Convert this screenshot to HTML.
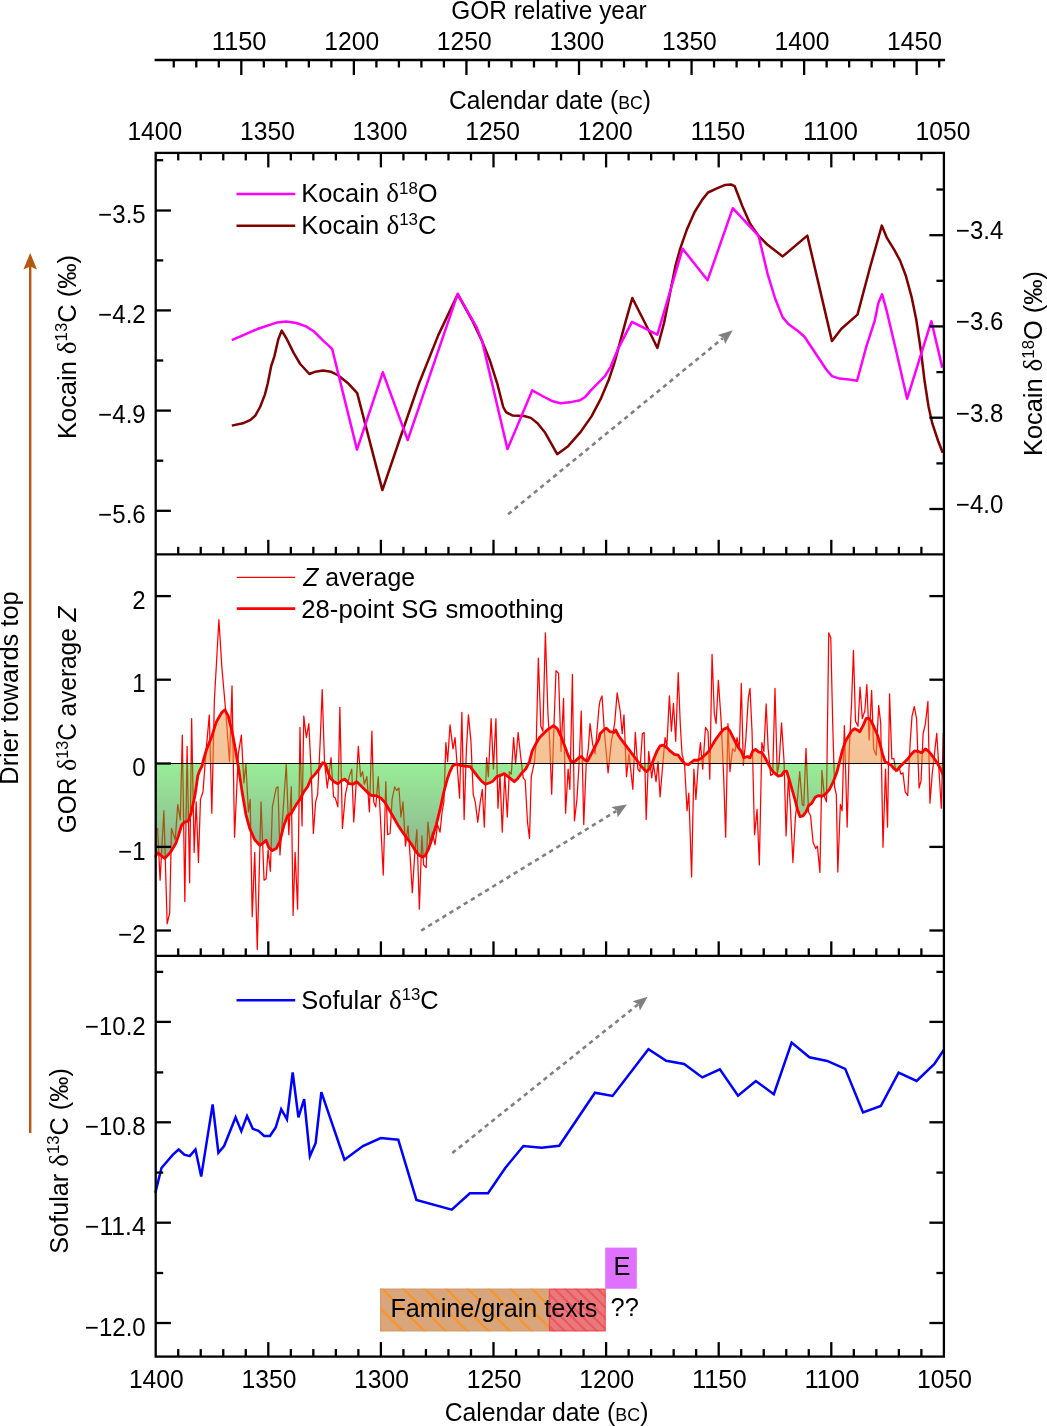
<!DOCTYPE html>
<html lang="en"><head><meta charset="utf-8"><title>Kocain, GOR and Sofular isotope records</title>
<style>html,body{margin:0;padding:0;background:#fff;}svg{display:block;will-change:transform;}text{opacity:.999;font-family:"Liberation Sans", Arial, Helvetica, sans-serif;font-size:25.4px;fill:#000;}.sym{font-family:"Liberation Serif","DejaVu Serif",serif;font-size:27px;}.sup{font-size:16.8px;}.sc{font-size:18.3px;}</style></head><body>
<svg width="1047" height="1426" viewBox="0 0 1047 1426">
<rect width="1047" height="1426" fill="#fff"/>
<defs>
<linearGradient id="gg" gradientUnits="userSpaceOnUse" x1="0" y1="763" x2="0" y2="858"><stop offset="0" stop-color="#98ee98"/><stop offset="1" stop-color="#8fb090"/></linearGradient>
<linearGradient id="og" gradientUnits="userSpaceOnUse" x1="0" y1="700" x2="0" y2="763"><stop offset="0" stop-color="#f8cda3"/><stop offset="1" stop-color="#f3c295"/></linearGradient>
</defs>
<clipPath id="cb"><rect x="155.7" y="763.5" width="788.2" height="200"/></clipPath>
<clipPath id="ca"><rect x="155.7" y="560" width="788.2" height="203.5"/></clipPath>
<clipPath id="cg"><path d="M154.6 857.2 L158.1 852.9 L161 855.5 L164.8 858.4 L170.5 852.2 L175.8 843.6 L178.7 835 L181.5 825.5 L184.4 822.1 L188.2 821.2 L191.1 813 L194.9 795.8 L197.8 775.8 L199.7 770.5 L202 766.2 L203.5 759.6 L206.4 750 L211.83 736.28 L216.12 722.4 L221.92 712.3 L224.95 709.78 L228.23 716.09 L232.02 731.23 L235.8 751.42 L238.33 766.56 L242.11 791.8 L245.9 814.51 L249.68 828.39 L254.73 839.75 L259.78 845.3 L263.56 842.78 L266.09 840.25 L268.61 847.32 L272.4 850.6 L276.18 848.58 L279.97 841.01 L283.75 825.87 L287.54 815.77 L291.32 813.25 L296.37 804.42 L300 799.37 L303.79 791.8 L307.57 786.75 L311.36 777.92 L315.14 774.13 L318.93 769.09 L322.71 762.78 L325.24 763.53 L327.76 771.61 L330.28 777.92 L334.07 781.7 L337.85 783.72 L341.64 780.44 L344.92 779.18 L349.21 783.72 L353 784.23 L356.78 781.7 L360.57 785.49 L364.35 789.27 L368.14 793.06 L371.92 795.58 L375.71 795.58 L380.76 798.11 L384.54 801.89 L388.33 808.2 L393.38 817.03 L398.42 825.87 L403.47 833.44 L407.26 838.49 L411.04 843.53 L414.83 849.84 L418.61 854.89 L422.4 856.91 L424.92 856.15 L428.71 848.58 L432.49 837.22 L436.28 824.61 L440.06 809.46 L443.85 791.8 L447.63 777.92 L450 771.61 L452.52 766.06 L456.31 764.04 L460.09 765.3 L465.14 766.06 L470.19 766.56 L473.97 771.61 L477.76 776.66 L481.55 781.2 L485.33 784.23 L489.12 782.97 L492.9 781.2 L496.69 776.66 L500.47 775.39 L504.26 773.63 L508.04 776.66 L511.83 779.68 L514.35 781.7 L518.14 777.92 L521.92 772.87 L525.71 769.09 L529.5 761.51 L532.02 751.42 L535.8 743.85 L539.59 737.54 L543.38 733.75 L547.16 729.97 L550.95 727.44 L553.47 725.68 L557.26 728.71 L561.04 736.28 L564.83 746.37 L568.61 756.47 L571.14 761.51 L574.92 761.51 L578.71 757.73 L581.23 756.47 L585.02 760.25 L587.54 761.01 L591.32 753.94 L595.11 746.37 L598.9 738.8 L600 733.75 L603.79 729.97 L606.31 728.2 L610.09 731.74 L613.88 732.49 L615.65 729.97 L618.93 736.28 L622.71 741.32 L626.5 746.37 L630.28 751.42 L634.07 756.47 L637.85 761.51 L641.64 766.56 L644.92 770.35 L646.69 771.61 L649.21 769.09 L651.74 764.04 L654.26 757.73 L656.78 751.42 L660.06 745.87 L663.09 745.11 L666.88 747.63 L670.66 751.42 L674.45 754.45 L678.23 755.21 L680.76 758.99 L684.54 763.53 L688.33 764.54 L690.85 762.78 L693.88 760.25 L697.16 760.25 L700.95 758.49 L704.73 755.21 L708.52 751.42 L712.3 745.11 L716.09 738.8 L719.87 733.75 L723.66 729.21 L727.44 727.44 L729.97 731.23 L733.75 738.8 L737.54 746.37 L741.32 751.42 L743.85 757.73 L747.63 756.47 L750 757.73 L752.52 751.42 L755.55 749.4 L758.83 752.18 L762.11 752.68 L765.14 757.73 L768.17 764.04 L771.45 769.59 L775.24 773.63 L778.26 776.15 L781.55 775.39 L784.07 771.61 L786.59 771.1 L789.12 779.18 L791.64 788.01 L794.92 799.37 L797.44 809.46 L799.97 816.53 L803 815.77 L806.03 811.99 L808.55 805.68 L811.83 803.15 L815.11 797.35 L818.64 795.58 L821.92 796.34 L825.71 793.82 L829.5 789.27 L833.28 781.7 L837.07 771.61 L839.59 761.51 L842.11 751.42 L845.39 741.32 L848.42 736.28 L851.45 731.23 L854.73 728.71 L857.26 729.97 L859.78 731.74 L863.06 725.68 L866.09 718.61 L868.61 718.11 L871.14 721.14 L874.16 727.44 L877.44 735.02 L879.97 743.85 L882.49 753.94 L885.02 761.51 L888.3 763.53 L891.32 765.3 L894.35 769.09 L896.88 770.35 L900.16 766.56 L903.94 762.78 L907.73 758.99 L911.51 753.94 L914.54 750.91 L917.82 751.42 L921.61 752.68 L925.39 748.9 L928.68 751.42 L931.7 755.21 L935.49 760.25 L939.27 766.56 L941.8 771.61 L944.32 777.92 L944.9 781.92 L943.9 763.5 L155.7 763.5 Z" clip-path="url(#cb)"/></clipPath>
<clipPath id="co"><path d="M154.6 857.2 L158.1 852.9 L161 855.5 L164.8 858.4 L170.5 852.2 L175.8 843.6 L178.7 835 L181.5 825.5 L184.4 822.1 L188.2 821.2 L191.1 813 L194.9 795.8 L197.8 775.8 L199.7 770.5 L202 766.2 L203.5 759.6 L206.4 750 L211.83 736.28 L216.12 722.4 L221.92 712.3 L224.95 709.78 L228.23 716.09 L232.02 731.23 L235.8 751.42 L238.33 766.56 L242.11 791.8 L245.9 814.51 L249.68 828.39 L254.73 839.75 L259.78 845.3 L263.56 842.78 L266.09 840.25 L268.61 847.32 L272.4 850.6 L276.18 848.58 L279.97 841.01 L283.75 825.87 L287.54 815.77 L291.32 813.25 L296.37 804.42 L300 799.37 L303.79 791.8 L307.57 786.75 L311.36 777.92 L315.14 774.13 L318.93 769.09 L322.71 762.78 L325.24 763.53 L327.76 771.61 L330.28 777.92 L334.07 781.7 L337.85 783.72 L341.64 780.44 L344.92 779.18 L349.21 783.72 L353 784.23 L356.78 781.7 L360.57 785.49 L364.35 789.27 L368.14 793.06 L371.92 795.58 L375.71 795.58 L380.76 798.11 L384.54 801.89 L388.33 808.2 L393.38 817.03 L398.42 825.87 L403.47 833.44 L407.26 838.49 L411.04 843.53 L414.83 849.84 L418.61 854.89 L422.4 856.91 L424.92 856.15 L428.71 848.58 L432.49 837.22 L436.28 824.61 L440.06 809.46 L443.85 791.8 L447.63 777.92 L450 771.61 L452.52 766.06 L456.31 764.04 L460.09 765.3 L465.14 766.06 L470.19 766.56 L473.97 771.61 L477.76 776.66 L481.55 781.2 L485.33 784.23 L489.12 782.97 L492.9 781.2 L496.69 776.66 L500.47 775.39 L504.26 773.63 L508.04 776.66 L511.83 779.68 L514.35 781.7 L518.14 777.92 L521.92 772.87 L525.71 769.09 L529.5 761.51 L532.02 751.42 L535.8 743.85 L539.59 737.54 L543.38 733.75 L547.16 729.97 L550.95 727.44 L553.47 725.68 L557.26 728.71 L561.04 736.28 L564.83 746.37 L568.61 756.47 L571.14 761.51 L574.92 761.51 L578.71 757.73 L581.23 756.47 L585.02 760.25 L587.54 761.01 L591.32 753.94 L595.11 746.37 L598.9 738.8 L600 733.75 L603.79 729.97 L606.31 728.2 L610.09 731.74 L613.88 732.49 L615.65 729.97 L618.93 736.28 L622.71 741.32 L626.5 746.37 L630.28 751.42 L634.07 756.47 L637.85 761.51 L641.64 766.56 L644.92 770.35 L646.69 771.61 L649.21 769.09 L651.74 764.04 L654.26 757.73 L656.78 751.42 L660.06 745.87 L663.09 745.11 L666.88 747.63 L670.66 751.42 L674.45 754.45 L678.23 755.21 L680.76 758.99 L684.54 763.53 L688.33 764.54 L690.85 762.78 L693.88 760.25 L697.16 760.25 L700.95 758.49 L704.73 755.21 L708.52 751.42 L712.3 745.11 L716.09 738.8 L719.87 733.75 L723.66 729.21 L727.44 727.44 L729.97 731.23 L733.75 738.8 L737.54 746.37 L741.32 751.42 L743.85 757.73 L747.63 756.47 L750 757.73 L752.52 751.42 L755.55 749.4 L758.83 752.18 L762.11 752.68 L765.14 757.73 L768.17 764.04 L771.45 769.59 L775.24 773.63 L778.26 776.15 L781.55 775.39 L784.07 771.61 L786.59 771.1 L789.12 779.18 L791.64 788.01 L794.92 799.37 L797.44 809.46 L799.97 816.53 L803 815.77 L806.03 811.99 L808.55 805.68 L811.83 803.15 L815.11 797.35 L818.64 795.58 L821.92 796.34 L825.71 793.82 L829.5 789.27 L833.28 781.7 L837.07 771.61 L839.59 761.51 L842.11 751.42 L845.39 741.32 L848.42 736.28 L851.45 731.23 L854.73 728.71 L857.26 729.97 L859.78 731.74 L863.06 725.68 L866.09 718.61 L868.61 718.11 L871.14 721.14 L874.16 727.44 L877.44 735.02 L879.97 743.85 L882.49 753.94 L885.02 761.51 L888.3 763.53 L891.32 765.3 L894.35 769.09 L896.88 770.35 L900.16 766.56 L903.94 762.78 L907.73 758.99 L911.51 753.94 L914.54 750.91 L917.82 751.42 L921.61 752.68 L925.39 748.9 L928.68 751.42 L931.7 755.21 L935.49 760.25 L939.27 766.56 L941.8 771.61 L944.32 777.92 L944.9 781.92 L943.9 763.5 L155.7 763.5 Z" clip-path="url(#ca)"/></clipPath>
<path d="M155.55 830.91 L157.57 828.39 L160.09 880.13 L163.88 810.73 L167.16 923.79 L169.68 912.93 L171.45 828.39 L175.24 839.75 L177.76 804.42 L180.28 819.56 L182.3 735.02 L184.83 901.58 L187.1 746.37 L189.62 882.65 L191.64 718.61 L194.16 852.37 L196.18 801.89 L198.45 862.46 L200.47 799.37 L203 791.8 L206.03 751.42 L209.31 714.83 L211.83 813.25 L214.35 700.95 L218.9 619.68 L221.92 668.14 L225.71 711.04 L229.5 761.51 L232.02 685.8 L234.54 837.22 L238.33 753.94 L241.36 735.02 L243.88 782.97 L245.9 764.04 L248.42 811.99 L250.19 799.37 L252.21 916.72 L254.73 852.37 L257.26 949.53 L261.04 801.89 L264.07 880.13 L266.09 878.86 L268.11 849.84 L270.38 871.29 L272.4 806.94 L276.18 788.01 L277.95 786.75 L279.97 854.89 L282.49 819.56 L286.28 764.04 L288.8 834.7 L291.32 786.75 L293.09 915.46 L295.11 852.37 L297.63 909.15 L300 727.44 L302.02 825.87 L303.79 716.09 L306.31 737.54 L308.83 723.66 L311.36 776.66 L313.38 833.44 L315.65 801.89 L317.67 794.32 L320.19 741.32 L322.21 689.59 L324.48 761.51 L327.26 788.01 L329.02 774.13 L331.04 757.73 L333.56 796.85 L335.33 798.11 L337.85 806.94 L339.87 707.26 L342.4 828.39 L345.43 794.32 L349.21 776.66 L351.74 769.09 L353.75 822.08 L356.78 774.13 L358.3 746.37 L360.57 776.66 L362.59 771.61 L364.35 784.23 L366.88 776.66 L369.4 811.99 L371.92 731.23 L373.69 801.89 L375.71 806.94 L378.23 776.66 L380.25 814.51 L383.28 875.08 L385.8 781.7 L387.57 834.7 L390.09 833.44 L392.11 799.37 L394.64 786.75 L396.66 790.54 L398.93 788.01 L400.95 817.03 L402.97 801.89 L405.49 846.06 L408.01 825.87 L410.03 854.89 L412.3 892.74 L414.83 852.37 L416.85 829.65 L419.37 909.15 L421.89 835.96 L423.66 864.98 L426.18 867.51 L427.95 822.08 L429.97 842.27 L432.49 832.18 L435.02 844.79 L437.54 824.61 L440.06 832.18 L442.08 811.99 L443.85 801.89 L445.87 742.59 L447.63 761.51 L450 724.92 L453.03 748.9 L455.05 737.54 L457.07 764.04 L459.59 798.11 L461.86 712.3 L464.13 819.56 L466.4 748.9 L468.42 714.83 L470.95 741.32 L473.22 794.32 L475.24 801.89 L477.76 822.08 L480.28 801.89 L482.3 789.27 L484.32 827.13 L486.59 757.73 L488.36 776.66 L491.14 718.61 L493.41 769.09 L495.93 718.61 L497.95 808.2 L499.97 774.13 L502.24 832.18 L504.76 774.13 L507.29 817.03 L509.31 771.61 L511.32 774.13 L513.6 737.54 L515.62 764.04 L518.14 732.49 L520.66 756.47 L523.19 777.92 L525.21 780.44 L527.48 822.08 L529.5 838.49 L531.26 776.66 L534.54 761.51 L536.31 741.32 L538.33 658.04 L540.85 726.18 L542.87 731.23 L545.39 632.81 L547.92 713.56 L549.68 741.32 L551.7 794.32 L553.97 726.18 L555.99 670.66 L558.52 673.19 L561.04 751.42 L563.56 698.42 L565.58 813.25 L568.11 769.09 L569.87 789.27 L572.4 674.45 L574.42 820.82 L576.94 799.37 L579.21 761.51 L581.23 711.04 L583.75 824.61 L586.28 761.51 L588.3 748.9 L590.06 723.66 L592.59 743.85 L595.11 753.94 L598.9 708.52 L600 700.95 L602.02 695.9 L604.54 733.75 L608.08 772.87 L611.36 741.32 L614.64 723.66 L617.16 692.87 L620.19 711.04 L622.21 733.75 L623.97 714.83 L626.5 776.66 L629.02 753.94 L632.81 789.27 L635.33 732.49 L637.85 769.09 L639.87 771.61 L642.4 733.75 L644.16 732.49 L646.18 819.56 L648.71 751.42 L651.74 777.92 L653.5 764.04 L656.03 781.7 L658.04 761.51 L660.06 796.85 L662.59 766.56 L665.11 737.54 L666.88 746.37 L669.4 695.9 L671.42 731.23 L673.44 703.47 L675.71 741.32 L678.23 672.68 L680.25 723.66 L682.02 753.94 L684.54 764.04 L687.07 810.73 L688.83 793.06 L691.61 877.1 L693.88 769.09 L695.9 799.37 L698.42 761.51 L700.44 742.59 L702.71 769.09 L705.49 727.44 L708.01 731.23 L709.78 779.18 L712.05 654.26 L714.32 713.56 L716.09 723.66 L718.36 680.25 L721.14 721.14 L723.66 776.66 L725.68 837.22 L727.95 723.66 L729.97 771.61 L732.49 748.9 L735.02 751.42 L737.03 737.54 L739.31 748.9 L741.32 683.28 L743.34 765.3 L745.87 738.8 L748.39 697.16 L750 688.33 L752.02 731.23 L754.54 834.7 L757.07 809.46 L759.34 864.98 L761.86 742.59 L763.88 751.42 L766.15 703.97 L768.17 748.9 L770.69 775.39 L772.71 774.13 L774.98 688.33 L777.26 774.13 L779.02 764.04 L781.55 722.9 L784.07 761.51 L786.09 835.96 L788.36 776.66 L790.38 806.94 L792.9 862.46 L795.43 817.03 L797.44 799.37 L799.72 771.61 L802.24 804.42 L803.75 805.68 L806.03 748.39 L808.55 811.99 L810.57 815.77 L813.09 842.27 L815.62 848.58 L817.38 846.06 L819.91 872.56 L821.92 770.35 L824.45 796.85 L826.47 801.89 L828.74 632.81 L830.76 637.85 L832.78 726.18 L834.54 786.75 L836.31 794.32 L837.82 872.05 L840.35 804.42 L842.11 810.73 L844.38 725.68 L847.16 827.13 L849.18 751.42 L851.45 705.99 L853.47 650.47 L855.49 721.14 L858.01 726.18 L860.03 687.07 L862.3 718.61 L864.83 711.04 L866.85 684.54 L869.12 740.06 L871.64 690.35 L873.66 748.9 L876.18 755.21 L878.71 705.49 L880.73 723.66 L883 847.32 L885.52 769.09 L887.54 827.13 L889.56 693.88 L891.83 758.99 L893.85 758.49 L895.87 771.61 L898.9 766.56 L900.91 774.13 L902.93 772.87 L905.21 791.8 L907.73 795.58 L910.25 741.32 L912.02 716.09 L914.29 706.5 L916.56 718.61 L919.09 788.01 L921.1 780.44 L923.12 733.75 L925.39 723.66 L927.92 701.45 L929.94 803.15 L932.21 774.13 L934.73 751.42 L936.75 733.25 L938.77 766.56 L941.29 808.2 L943.31 732.49" fill="none" stroke="#ff0000" stroke-width="1.25" stroke-linejoin="round"/>
<path d="M154.6 857.2 L158.1 852.9 L161 855.5 L164.8 858.4 L170.5 852.2 L175.8 843.6 L178.7 835 L181.5 825.5 L184.4 822.1 L188.2 821.2 L191.1 813 L194.9 795.8 L197.8 775.8 L199.7 770.5 L202 766.2 L203.5 759.6 L206.4 750 L211.83 736.28 L216.12 722.4 L221.92 712.3 L224.95 709.78 L228.23 716.09 L232.02 731.23 L235.8 751.42 L238.33 766.56 L242.11 791.8 L245.9 814.51 L249.68 828.39 L254.73 839.75 L259.78 845.3 L263.56 842.78 L266.09 840.25 L268.61 847.32 L272.4 850.6 L276.18 848.58 L279.97 841.01 L283.75 825.87 L287.54 815.77 L291.32 813.25 L296.37 804.42 L300 799.37 L303.79 791.8 L307.57 786.75 L311.36 777.92 L315.14 774.13 L318.93 769.09 L322.71 762.78 L325.24 763.53 L327.76 771.61 L330.28 777.92 L334.07 781.7 L337.85 783.72 L341.64 780.44 L344.92 779.18 L349.21 783.72 L353 784.23 L356.78 781.7 L360.57 785.49 L364.35 789.27 L368.14 793.06 L371.92 795.58 L375.71 795.58 L380.76 798.11 L384.54 801.89 L388.33 808.2 L393.38 817.03 L398.42 825.87 L403.47 833.44 L407.26 838.49 L411.04 843.53 L414.83 849.84 L418.61 854.89 L422.4 856.91 L424.92 856.15 L428.71 848.58 L432.49 837.22 L436.28 824.61 L440.06 809.46 L443.85 791.8 L447.63 777.92 L450 771.61 L452.52 766.06 L456.31 764.04 L460.09 765.3 L465.14 766.06 L470.19 766.56 L473.97 771.61 L477.76 776.66 L481.55 781.2 L485.33 784.23 L489.12 782.97 L492.9 781.2 L496.69 776.66 L500.47 775.39 L504.26 773.63 L508.04 776.66 L511.83 779.68 L514.35 781.7 L518.14 777.92 L521.92 772.87 L525.71 769.09 L529.5 761.51 L532.02 751.42 L535.8 743.85 L539.59 737.54 L543.38 733.75 L547.16 729.97 L550.95 727.44 L553.47 725.68 L557.26 728.71 L561.04 736.28 L564.83 746.37 L568.61 756.47 L571.14 761.51 L574.92 761.51 L578.71 757.73 L581.23 756.47 L585.02 760.25 L587.54 761.01 L591.32 753.94 L595.11 746.37 L598.9 738.8 L600 733.75 L603.79 729.97 L606.31 728.2 L610.09 731.74 L613.88 732.49 L615.65 729.97 L618.93 736.28 L622.71 741.32 L626.5 746.37 L630.28 751.42 L634.07 756.47 L637.85 761.51 L641.64 766.56 L644.92 770.35 L646.69 771.61 L649.21 769.09 L651.74 764.04 L654.26 757.73 L656.78 751.42 L660.06 745.87 L663.09 745.11 L666.88 747.63 L670.66 751.42 L674.45 754.45 L678.23 755.21 L680.76 758.99 L684.54 763.53 L688.33 764.54 L690.85 762.78 L693.88 760.25 L697.16 760.25 L700.95 758.49 L704.73 755.21 L708.52 751.42 L712.3 745.11 L716.09 738.8 L719.87 733.75 L723.66 729.21 L727.44 727.44 L729.97 731.23 L733.75 738.8 L737.54 746.37 L741.32 751.42 L743.85 757.73 L747.63 756.47 L750 757.73 L752.52 751.42 L755.55 749.4 L758.83 752.18 L762.11 752.68 L765.14 757.73 L768.17 764.04 L771.45 769.59 L775.24 773.63 L778.26 776.15 L781.55 775.39 L784.07 771.61 L786.59 771.1 L789.12 779.18 L791.64 788.01 L794.92 799.37 L797.44 809.46 L799.97 816.53 L803 815.77 L806.03 811.99 L808.55 805.68 L811.83 803.15 L815.11 797.35 L818.64 795.58 L821.92 796.34 L825.71 793.82 L829.5 789.27 L833.28 781.7 L837.07 771.61 L839.59 761.51 L842.11 751.42 L845.39 741.32 L848.42 736.28 L851.45 731.23 L854.73 728.71 L857.26 729.97 L859.78 731.74 L863.06 725.68 L866.09 718.61 L868.61 718.11 L871.14 721.14 L874.16 727.44 L877.44 735.02 L879.97 743.85 L882.49 753.94 L885.02 761.51 L888.3 763.53 L891.32 765.3 L894.35 769.09 L896.88 770.35 L900.16 766.56 L903.94 762.78 L907.73 758.99 L911.51 753.94 L914.54 750.91 L917.82 751.42 L921.61 752.68 L925.39 748.9 L928.68 751.42 L931.7 755.21 L935.49 760.25 L939.27 766.56 L941.8 771.61 L944.32 777.92 L944.9 781.92 L943.9 763.5 L155.7 763.5 Z" fill="url(#gg)" clip-path="url(#cb)"/>
<path d="M154.6 857.2 L158.1 852.9 L161 855.5 L164.8 858.4 L170.5 852.2 L175.8 843.6 L178.7 835 L181.5 825.5 L184.4 822.1 L188.2 821.2 L191.1 813 L194.9 795.8 L197.8 775.8 L199.7 770.5 L202 766.2 L203.5 759.6 L206.4 750 L211.83 736.28 L216.12 722.4 L221.92 712.3 L224.95 709.78 L228.23 716.09 L232.02 731.23 L235.8 751.42 L238.33 766.56 L242.11 791.8 L245.9 814.51 L249.68 828.39 L254.73 839.75 L259.78 845.3 L263.56 842.78 L266.09 840.25 L268.61 847.32 L272.4 850.6 L276.18 848.58 L279.97 841.01 L283.75 825.87 L287.54 815.77 L291.32 813.25 L296.37 804.42 L300 799.37 L303.79 791.8 L307.57 786.75 L311.36 777.92 L315.14 774.13 L318.93 769.09 L322.71 762.78 L325.24 763.53 L327.76 771.61 L330.28 777.92 L334.07 781.7 L337.85 783.72 L341.64 780.44 L344.92 779.18 L349.21 783.72 L353 784.23 L356.78 781.7 L360.57 785.49 L364.35 789.27 L368.14 793.06 L371.92 795.58 L375.71 795.58 L380.76 798.11 L384.54 801.89 L388.33 808.2 L393.38 817.03 L398.42 825.87 L403.47 833.44 L407.26 838.49 L411.04 843.53 L414.83 849.84 L418.61 854.89 L422.4 856.91 L424.92 856.15 L428.71 848.58 L432.49 837.22 L436.28 824.61 L440.06 809.46 L443.85 791.8 L447.63 777.92 L450 771.61 L452.52 766.06 L456.31 764.04 L460.09 765.3 L465.14 766.06 L470.19 766.56 L473.97 771.61 L477.76 776.66 L481.55 781.2 L485.33 784.23 L489.12 782.97 L492.9 781.2 L496.69 776.66 L500.47 775.39 L504.26 773.63 L508.04 776.66 L511.83 779.68 L514.35 781.7 L518.14 777.92 L521.92 772.87 L525.71 769.09 L529.5 761.51 L532.02 751.42 L535.8 743.85 L539.59 737.54 L543.38 733.75 L547.16 729.97 L550.95 727.44 L553.47 725.68 L557.26 728.71 L561.04 736.28 L564.83 746.37 L568.61 756.47 L571.14 761.51 L574.92 761.51 L578.71 757.73 L581.23 756.47 L585.02 760.25 L587.54 761.01 L591.32 753.94 L595.11 746.37 L598.9 738.8 L600 733.75 L603.79 729.97 L606.31 728.2 L610.09 731.74 L613.88 732.49 L615.65 729.97 L618.93 736.28 L622.71 741.32 L626.5 746.37 L630.28 751.42 L634.07 756.47 L637.85 761.51 L641.64 766.56 L644.92 770.35 L646.69 771.61 L649.21 769.09 L651.74 764.04 L654.26 757.73 L656.78 751.42 L660.06 745.87 L663.09 745.11 L666.88 747.63 L670.66 751.42 L674.45 754.45 L678.23 755.21 L680.76 758.99 L684.54 763.53 L688.33 764.54 L690.85 762.78 L693.88 760.25 L697.16 760.25 L700.95 758.49 L704.73 755.21 L708.52 751.42 L712.3 745.11 L716.09 738.8 L719.87 733.75 L723.66 729.21 L727.44 727.44 L729.97 731.23 L733.75 738.8 L737.54 746.37 L741.32 751.42 L743.85 757.73 L747.63 756.47 L750 757.73 L752.52 751.42 L755.55 749.4 L758.83 752.18 L762.11 752.68 L765.14 757.73 L768.17 764.04 L771.45 769.59 L775.24 773.63 L778.26 776.15 L781.55 775.39 L784.07 771.61 L786.59 771.1 L789.12 779.18 L791.64 788.01 L794.92 799.37 L797.44 809.46 L799.97 816.53 L803 815.77 L806.03 811.99 L808.55 805.68 L811.83 803.15 L815.11 797.35 L818.64 795.58 L821.92 796.34 L825.71 793.82 L829.5 789.27 L833.28 781.7 L837.07 771.61 L839.59 761.51 L842.11 751.42 L845.39 741.32 L848.42 736.28 L851.45 731.23 L854.73 728.71 L857.26 729.97 L859.78 731.74 L863.06 725.68 L866.09 718.61 L868.61 718.11 L871.14 721.14 L874.16 727.44 L877.44 735.02 L879.97 743.85 L882.49 753.94 L885.02 761.51 L888.3 763.53 L891.32 765.3 L894.35 769.09 L896.88 770.35 L900.16 766.56 L903.94 762.78 L907.73 758.99 L911.51 753.94 L914.54 750.91 L917.82 751.42 L921.61 752.68 L925.39 748.9 L928.68 751.42 L931.7 755.21 L935.49 760.25 L939.27 766.56 L941.8 771.61 L944.32 777.92 L944.9 781.92 L943.9 763.5 L155.7 763.5 Z" fill="url(#og)" clip-path="url(#ca)"/>
<path d="M155.55 830.91 L157.57 828.39 L160.09 880.13 L163.88 810.73 L167.16 923.79 L169.68 912.93 L171.45 828.39 L175.24 839.75 L177.76 804.42 L180.28 819.56 L182.3 735.02 L184.83 901.58 L187.1 746.37 L189.62 882.65 L191.64 718.61 L194.16 852.37 L196.18 801.89 L198.45 862.46 L200.47 799.37 L203 791.8 L206.03 751.42 L209.31 714.83 L211.83 813.25 L214.35 700.95 L218.9 619.68 L221.92 668.14 L225.71 711.04 L229.5 761.51 L232.02 685.8 L234.54 837.22 L238.33 753.94 L241.36 735.02 L243.88 782.97 L245.9 764.04 L248.42 811.99 L250.19 799.37 L252.21 916.72 L254.73 852.37 L257.26 949.53 L261.04 801.89 L264.07 880.13 L266.09 878.86 L268.11 849.84 L270.38 871.29 L272.4 806.94 L276.18 788.01 L277.95 786.75 L279.97 854.89 L282.49 819.56 L286.28 764.04 L288.8 834.7 L291.32 786.75 L293.09 915.46 L295.11 852.37 L297.63 909.15 L300 727.44 L302.02 825.87 L303.79 716.09 L306.31 737.54 L308.83 723.66 L311.36 776.66 L313.38 833.44 L315.65 801.89 L317.67 794.32 L320.19 741.32 L322.21 689.59 L324.48 761.51 L327.26 788.01 L329.02 774.13 L331.04 757.73 L333.56 796.85 L335.33 798.11 L337.85 806.94 L339.87 707.26 L342.4 828.39 L345.43 794.32 L349.21 776.66 L351.74 769.09 L353.75 822.08 L356.78 774.13 L358.3 746.37 L360.57 776.66 L362.59 771.61 L364.35 784.23 L366.88 776.66 L369.4 811.99 L371.92 731.23 L373.69 801.89 L375.71 806.94 L378.23 776.66 L380.25 814.51 L383.28 875.08 L385.8 781.7 L387.57 834.7 L390.09 833.44 L392.11 799.37 L394.64 786.75 L396.66 790.54 L398.93 788.01 L400.95 817.03 L402.97 801.89 L405.49 846.06 L408.01 825.87 L410.03 854.89 L412.3 892.74 L414.83 852.37 L416.85 829.65 L419.37 909.15 L421.89 835.96 L423.66 864.98 L426.18 867.51 L427.95 822.08 L429.97 842.27 L432.49 832.18 L435.02 844.79 L437.54 824.61 L440.06 832.18 L442.08 811.99 L443.85 801.89 L445.87 742.59 L447.63 761.51 L450 724.92 L453.03 748.9 L455.05 737.54 L457.07 764.04 L459.59 798.11 L461.86 712.3 L464.13 819.56 L466.4 748.9 L468.42 714.83 L470.95 741.32 L473.22 794.32 L475.24 801.89 L477.76 822.08 L480.28 801.89 L482.3 789.27 L484.32 827.13 L486.59 757.73 L488.36 776.66 L491.14 718.61 L493.41 769.09 L495.93 718.61 L497.95 808.2 L499.97 774.13 L502.24 832.18 L504.76 774.13 L507.29 817.03 L509.31 771.61 L511.32 774.13 L513.6 737.54 L515.62 764.04 L518.14 732.49 L520.66 756.47 L523.19 777.92 L525.21 780.44 L527.48 822.08 L529.5 838.49 L531.26 776.66 L534.54 761.51 L536.31 741.32 L538.33 658.04 L540.85 726.18 L542.87 731.23 L545.39 632.81 L547.92 713.56 L549.68 741.32 L551.7 794.32 L553.97 726.18 L555.99 670.66 L558.52 673.19 L561.04 751.42 L563.56 698.42 L565.58 813.25 L568.11 769.09 L569.87 789.27 L572.4 674.45 L574.42 820.82 L576.94 799.37 L579.21 761.51 L581.23 711.04 L583.75 824.61 L586.28 761.51 L588.3 748.9 L590.06 723.66 L592.59 743.85 L595.11 753.94 L598.9 708.52 L600 700.95 L602.02 695.9 L604.54 733.75 L608.08 772.87 L611.36 741.32 L614.64 723.66 L617.16 692.87 L620.19 711.04 L622.21 733.75 L623.97 714.83 L626.5 776.66 L629.02 753.94 L632.81 789.27 L635.33 732.49 L637.85 769.09 L639.87 771.61 L642.4 733.75 L644.16 732.49 L646.18 819.56 L648.71 751.42 L651.74 777.92 L653.5 764.04 L656.03 781.7 L658.04 761.51 L660.06 796.85 L662.59 766.56 L665.11 737.54 L666.88 746.37 L669.4 695.9 L671.42 731.23 L673.44 703.47 L675.71 741.32 L678.23 672.68 L680.25 723.66 L682.02 753.94 L684.54 764.04 L687.07 810.73 L688.83 793.06 L691.61 877.1 L693.88 769.09 L695.9 799.37 L698.42 761.51 L700.44 742.59 L702.71 769.09 L705.49 727.44 L708.01 731.23 L709.78 779.18 L712.05 654.26 L714.32 713.56 L716.09 723.66 L718.36 680.25 L721.14 721.14 L723.66 776.66 L725.68 837.22 L727.95 723.66 L729.97 771.61 L732.49 748.9 L735.02 751.42 L737.03 737.54 L739.31 748.9 L741.32 683.28 L743.34 765.3 L745.87 738.8 L748.39 697.16 L750 688.33 L752.02 731.23 L754.54 834.7 L757.07 809.46 L759.34 864.98 L761.86 742.59 L763.88 751.42 L766.15 703.97 L768.17 748.9 L770.69 775.39 L772.71 774.13 L774.98 688.33 L777.26 774.13 L779.02 764.04 L781.55 722.9 L784.07 761.51 L786.09 835.96 L788.36 776.66 L790.38 806.94 L792.9 862.46 L795.43 817.03 L797.44 799.37 L799.72 771.61 L802.24 804.42 L803.75 805.68 L806.03 748.39 L808.55 811.99 L810.57 815.77 L813.09 842.27 L815.62 848.58 L817.38 846.06 L819.91 872.56 L821.92 770.35 L824.45 796.85 L826.47 801.89 L828.74 632.81 L830.76 637.85 L832.78 726.18 L834.54 786.75 L836.31 794.32 L837.82 872.05 L840.35 804.42 L842.11 810.73 L844.38 725.68 L847.16 827.13 L849.18 751.42 L851.45 705.99 L853.47 650.47 L855.49 721.14 L858.01 726.18 L860.03 687.07 L862.3 718.61 L864.83 711.04 L866.85 684.54 L869.12 740.06 L871.64 690.35 L873.66 748.9 L876.18 755.21 L878.71 705.49 L880.73 723.66 L883 847.32 L885.52 769.09 L887.54 827.13 L889.56 693.88 L891.83 758.99 L893.85 758.49 L895.87 771.61 L898.9 766.56 L900.91 774.13 L902.93 772.87 L905.21 791.8 L907.73 795.58 L910.25 741.32 L912.02 716.09 L914.29 706.5 L916.56 718.61 L919.09 788.01 L921.1 780.44 L923.12 733.75 L925.39 723.66 L927.92 701.45 L929.94 803.15 L932.21 774.13 L934.73 751.42 L936.75 733.25 L938.77 766.56 L941.29 808.2 L943.31 732.49" fill="none" stroke="#a4580f" stroke-width="1.25" stroke-linejoin="round" clip-path="url(#cg)"/>
<path d="M155.55 830.91 L157.57 828.39 L160.09 880.13 L163.88 810.73 L167.16 923.79 L169.68 912.93 L171.45 828.39 L175.24 839.75 L177.76 804.42 L180.28 819.56 L182.3 735.02 L184.83 901.58 L187.1 746.37 L189.62 882.65 L191.64 718.61 L194.16 852.37 L196.18 801.89 L198.45 862.46 L200.47 799.37 L203 791.8 L206.03 751.42 L209.31 714.83 L211.83 813.25 L214.35 700.95 L218.9 619.68 L221.92 668.14 L225.71 711.04 L229.5 761.51 L232.02 685.8 L234.54 837.22 L238.33 753.94 L241.36 735.02 L243.88 782.97 L245.9 764.04 L248.42 811.99 L250.19 799.37 L252.21 916.72 L254.73 852.37 L257.26 949.53 L261.04 801.89 L264.07 880.13 L266.09 878.86 L268.11 849.84 L270.38 871.29 L272.4 806.94 L276.18 788.01 L277.95 786.75 L279.97 854.89 L282.49 819.56 L286.28 764.04 L288.8 834.7 L291.32 786.75 L293.09 915.46 L295.11 852.37 L297.63 909.15 L300 727.44 L302.02 825.87 L303.79 716.09 L306.31 737.54 L308.83 723.66 L311.36 776.66 L313.38 833.44 L315.65 801.89 L317.67 794.32 L320.19 741.32 L322.21 689.59 L324.48 761.51 L327.26 788.01 L329.02 774.13 L331.04 757.73 L333.56 796.85 L335.33 798.11 L337.85 806.94 L339.87 707.26 L342.4 828.39 L345.43 794.32 L349.21 776.66 L351.74 769.09 L353.75 822.08 L356.78 774.13 L358.3 746.37 L360.57 776.66 L362.59 771.61 L364.35 784.23 L366.88 776.66 L369.4 811.99 L371.92 731.23 L373.69 801.89 L375.71 806.94 L378.23 776.66 L380.25 814.51 L383.28 875.08 L385.8 781.7 L387.57 834.7 L390.09 833.44 L392.11 799.37 L394.64 786.75 L396.66 790.54 L398.93 788.01 L400.95 817.03 L402.97 801.89 L405.49 846.06 L408.01 825.87 L410.03 854.89 L412.3 892.74 L414.83 852.37 L416.85 829.65 L419.37 909.15 L421.89 835.96 L423.66 864.98 L426.18 867.51 L427.95 822.08 L429.97 842.27 L432.49 832.18 L435.02 844.79 L437.54 824.61 L440.06 832.18 L442.08 811.99 L443.85 801.89 L445.87 742.59 L447.63 761.51 L450 724.92 L453.03 748.9 L455.05 737.54 L457.07 764.04 L459.59 798.11 L461.86 712.3 L464.13 819.56 L466.4 748.9 L468.42 714.83 L470.95 741.32 L473.22 794.32 L475.24 801.89 L477.76 822.08 L480.28 801.89 L482.3 789.27 L484.32 827.13 L486.59 757.73 L488.36 776.66 L491.14 718.61 L493.41 769.09 L495.93 718.61 L497.95 808.2 L499.97 774.13 L502.24 832.18 L504.76 774.13 L507.29 817.03 L509.31 771.61 L511.32 774.13 L513.6 737.54 L515.62 764.04 L518.14 732.49 L520.66 756.47 L523.19 777.92 L525.21 780.44 L527.48 822.08 L529.5 838.49 L531.26 776.66 L534.54 761.51 L536.31 741.32 L538.33 658.04 L540.85 726.18 L542.87 731.23 L545.39 632.81 L547.92 713.56 L549.68 741.32 L551.7 794.32 L553.97 726.18 L555.99 670.66 L558.52 673.19 L561.04 751.42 L563.56 698.42 L565.58 813.25 L568.11 769.09 L569.87 789.27 L572.4 674.45 L574.42 820.82 L576.94 799.37 L579.21 761.51 L581.23 711.04 L583.75 824.61 L586.28 761.51 L588.3 748.9 L590.06 723.66 L592.59 743.85 L595.11 753.94 L598.9 708.52 L600 700.95 L602.02 695.9 L604.54 733.75 L608.08 772.87 L611.36 741.32 L614.64 723.66 L617.16 692.87 L620.19 711.04 L622.21 733.75 L623.97 714.83 L626.5 776.66 L629.02 753.94 L632.81 789.27 L635.33 732.49 L637.85 769.09 L639.87 771.61 L642.4 733.75 L644.16 732.49 L646.18 819.56 L648.71 751.42 L651.74 777.92 L653.5 764.04 L656.03 781.7 L658.04 761.51 L660.06 796.85 L662.59 766.56 L665.11 737.54 L666.88 746.37 L669.4 695.9 L671.42 731.23 L673.44 703.47 L675.71 741.32 L678.23 672.68 L680.25 723.66 L682.02 753.94 L684.54 764.04 L687.07 810.73 L688.83 793.06 L691.61 877.1 L693.88 769.09 L695.9 799.37 L698.42 761.51 L700.44 742.59 L702.71 769.09 L705.49 727.44 L708.01 731.23 L709.78 779.18 L712.05 654.26 L714.32 713.56 L716.09 723.66 L718.36 680.25 L721.14 721.14 L723.66 776.66 L725.68 837.22 L727.95 723.66 L729.97 771.61 L732.49 748.9 L735.02 751.42 L737.03 737.54 L739.31 748.9 L741.32 683.28 L743.34 765.3 L745.87 738.8 L748.39 697.16 L750 688.33 L752.02 731.23 L754.54 834.7 L757.07 809.46 L759.34 864.98 L761.86 742.59 L763.88 751.42 L766.15 703.97 L768.17 748.9 L770.69 775.39 L772.71 774.13 L774.98 688.33 L777.26 774.13 L779.02 764.04 L781.55 722.9 L784.07 761.51 L786.09 835.96 L788.36 776.66 L790.38 806.94 L792.9 862.46 L795.43 817.03 L797.44 799.37 L799.72 771.61 L802.24 804.42 L803.75 805.68 L806.03 748.39 L808.55 811.99 L810.57 815.77 L813.09 842.27 L815.62 848.58 L817.38 846.06 L819.91 872.56 L821.92 770.35 L824.45 796.85 L826.47 801.89 L828.74 632.81 L830.76 637.85 L832.78 726.18 L834.54 786.75 L836.31 794.32 L837.82 872.05 L840.35 804.42 L842.11 810.73 L844.38 725.68 L847.16 827.13 L849.18 751.42 L851.45 705.99 L853.47 650.47 L855.49 721.14 L858.01 726.18 L860.03 687.07 L862.3 718.61 L864.83 711.04 L866.85 684.54 L869.12 740.06 L871.64 690.35 L873.66 748.9 L876.18 755.21 L878.71 705.49 L880.73 723.66 L883 847.32 L885.52 769.09 L887.54 827.13 L889.56 693.88 L891.83 758.99 L893.85 758.49 L895.87 771.61 L898.9 766.56 L900.91 774.13 L902.93 772.87 L905.21 791.8 L907.73 795.58 L910.25 741.32 L912.02 716.09 L914.29 706.5 L916.56 718.61 L919.09 788.01 L921.1 780.44 L923.12 733.75 L925.39 723.66 L927.92 701.45 L929.94 803.15 L932.21 774.13 L934.73 751.42 L936.75 733.25 L938.77 766.56 L941.29 808.2 L943.31 732.49" fill="none" stroke="#f4511e" stroke-width="1.25" stroke-linejoin="round" clip-path="url(#co)"/>
<line x1="155.7" y1="763.5" x2="943.9" y2="763.5" stroke="#000" stroke-width="1.2"/>
<clipPath id="cp2"><rect x="154.5" y="554.3" width="789.4" height="401.55"/></clipPath>
<path d="M154.6 857.2 L158.1 852.9 L161 855.5 L164.8 858.4 L170.5 852.2 L175.8 843.6 L178.7 835 L181.5 825.5 L184.4 822.1 L188.2 821.2 L191.1 813 L194.9 795.8 L197.8 775.8 L199.7 770.5 L202 766.2 L203.5 759.6 L206.4 750 L211.83 736.28 L216.12 722.4 L221.92 712.3 L224.95 709.78 L228.23 716.09 L232.02 731.23 L235.8 751.42 L238.33 766.56 L242.11 791.8 L245.9 814.51 L249.68 828.39 L254.73 839.75 L259.78 845.3 L263.56 842.78 L266.09 840.25 L268.61 847.32 L272.4 850.6 L276.18 848.58 L279.97 841.01 L283.75 825.87 L287.54 815.77 L291.32 813.25 L296.37 804.42 L300 799.37 L303.79 791.8 L307.57 786.75 L311.36 777.92 L315.14 774.13 L318.93 769.09 L322.71 762.78 L325.24 763.53 L327.76 771.61 L330.28 777.92 L334.07 781.7 L337.85 783.72 L341.64 780.44 L344.92 779.18 L349.21 783.72 L353 784.23 L356.78 781.7 L360.57 785.49 L364.35 789.27 L368.14 793.06 L371.92 795.58 L375.71 795.58 L380.76 798.11 L384.54 801.89 L388.33 808.2 L393.38 817.03 L398.42 825.87 L403.47 833.44 L407.26 838.49 L411.04 843.53 L414.83 849.84 L418.61 854.89 L422.4 856.91 L424.92 856.15 L428.71 848.58 L432.49 837.22 L436.28 824.61 L440.06 809.46 L443.85 791.8 L447.63 777.92 L450 771.61 L452.52 766.06 L456.31 764.04 L460.09 765.3 L465.14 766.06 L470.19 766.56 L473.97 771.61 L477.76 776.66 L481.55 781.2 L485.33 784.23 L489.12 782.97 L492.9 781.2 L496.69 776.66 L500.47 775.39 L504.26 773.63 L508.04 776.66 L511.83 779.68 L514.35 781.7 L518.14 777.92 L521.92 772.87 L525.71 769.09 L529.5 761.51 L532.02 751.42 L535.8 743.85 L539.59 737.54 L543.38 733.75 L547.16 729.97 L550.95 727.44 L553.47 725.68 L557.26 728.71 L561.04 736.28 L564.83 746.37 L568.61 756.47 L571.14 761.51 L574.92 761.51 L578.71 757.73 L581.23 756.47 L585.02 760.25 L587.54 761.01 L591.32 753.94 L595.11 746.37 L598.9 738.8 L600 733.75 L603.79 729.97 L606.31 728.2 L610.09 731.74 L613.88 732.49 L615.65 729.97 L618.93 736.28 L622.71 741.32 L626.5 746.37 L630.28 751.42 L634.07 756.47 L637.85 761.51 L641.64 766.56 L644.92 770.35 L646.69 771.61 L649.21 769.09 L651.74 764.04 L654.26 757.73 L656.78 751.42 L660.06 745.87 L663.09 745.11 L666.88 747.63 L670.66 751.42 L674.45 754.45 L678.23 755.21 L680.76 758.99 L684.54 763.53 L688.33 764.54 L690.85 762.78 L693.88 760.25 L697.16 760.25 L700.95 758.49 L704.73 755.21 L708.52 751.42 L712.3 745.11 L716.09 738.8 L719.87 733.75 L723.66 729.21 L727.44 727.44 L729.97 731.23 L733.75 738.8 L737.54 746.37 L741.32 751.42 L743.85 757.73 L747.63 756.47 L750 757.73 L752.52 751.42 L755.55 749.4 L758.83 752.18 L762.11 752.68 L765.14 757.73 L768.17 764.04 L771.45 769.59 L775.24 773.63 L778.26 776.15 L781.55 775.39 L784.07 771.61 L786.59 771.1 L789.12 779.18 L791.64 788.01 L794.92 799.37 L797.44 809.46 L799.97 816.53 L803 815.77 L806.03 811.99 L808.55 805.68 L811.83 803.15 L815.11 797.35 L818.64 795.58 L821.92 796.34 L825.71 793.82 L829.5 789.27 L833.28 781.7 L837.07 771.61 L839.59 761.51 L842.11 751.42 L845.39 741.32 L848.42 736.28 L851.45 731.23 L854.73 728.71 L857.26 729.97 L859.78 731.74 L863.06 725.68 L866.09 718.61 L868.61 718.11 L871.14 721.14 L874.16 727.44 L877.44 735.02 L879.97 743.85 L882.49 753.94 L885.02 761.51 L888.3 763.53 L891.32 765.3 L894.35 769.09 L896.88 770.35 L900.16 766.56 L903.94 762.78 L907.73 758.99 L911.51 753.94 L914.54 750.91 L917.82 751.42 L921.61 752.68 L925.39 748.9 L928.68 751.42 L931.7 755.21 L935.49 760.25 L939.27 766.56 L941.8 771.61 L944.32 777.92 L944.9 781.92" fill="none" stroke="#ff0000" stroke-width="2.8" stroke-linejoin="round" stroke-linecap="butt" clip-path="url(#cp2)"/>
<path d="M231.8 425.6 L242.9 423.3 L250.6 419.8 L255.3 415.6 L260.1 407 L264.9 394.6 L267.8 383.2 L271.2 366 L274.4 356.4 L278.3 339.2 L281.7 330.6 L286.9 339.2 L293.5 352.6 L300.2 364 L309.4 374 L315.5 371.7 L323.2 370.4 L330.8 371.7 L338.4 375.5 L348 383.2 L357.2 393.1 L382.4 490.1 L400 438.5 L419.1 383.2 L438.2 335.4 L457.7 294.3 L472.6 321.1 L482.1 341.1 L489.8 360.2 L497.4 384.1 L503.2 407 L506 412.2 L512.7 415.6 L524.2 416 L530.8 417.9 L537.5 423.3 L545.2 432.8 L557.2 454.2 L568.1 446.2 L580 432.7 L591.5 416.4 L601 398.3 L608.7 380.1 L614.4 362.9 L620.1 341.9 L625.8 320.9 L632.3 298 L650.7 334.3 L657.4 348 L664.1 322.8 L669.8 294.2 L675.5 265.5 L680.3 248.3 L687 229.2 L694.6 212 L702.3 199.6 L708 192.5 L717.5 188.1 L725.2 184.9 L730.9 184.5 L734.7 186.2 L742.4 206.3 L750 223.5 L758.6 235.9 L767.2 244.5 L782.7 256.4 L807.3 235.6 L832 341.1 L841.4 328.8 L857.5 314.6 L869.8 268.2 L881.8 225.6 L886.9 237.9 L894.4 250.2 L900.1 260.6 L905.8 275.7 L911.5 296.6 L916.2 319.3 L921 351.5 L924.7 381.8 L928.5 406.4 L932.3 423.4 L938 440.5 L942.7 452.8" fill="none" stroke="#800000" stroke-width="2.5" stroke-linejoin="round"/>
<path d="M231.8 340.2 L258.2 328.7 L277.3 322.4 L285.9 321.6 L296.4 323 L306 326.4 L313.6 331.2 L323.2 340.7 L332.1 348.8 L357 449.6 L382.8 372.3 L407.7 440.1 L457.7 293.8 L476.4 326.8 L482.1 341.1 L507.5 449.1 L532.2 390.4 L545.2 397.5 L552.8 401.3 L560.5 403.2 L571.9 401.9 L580 400.2 L584.8 397.3 L591.5 389.7 L604.8 376.3 L610.6 366.8 L618.2 348.6 L632 321.9 L657.4 334.7 L682.6 248.7 L707.6 280.2 L732.8 208.2 L758.6 235.9 L767.6 273.8 L775.1 298.5 L782.7 317.4 L788.4 324 L797.9 331 L804.5 336.7 L816.8 355.3 L826.3 369.5 L832 376.1 L839.5 378.6 L849 379.5 L857.1 380.8 L866 347.7 L874.6 321.2 L878.3 303.2 L882.1 294.3 L886.9 311.7 L896.3 351.5 L907.1 398.8 L931.4 321.2 L942.3 367.6" fill="none" stroke="#ff00ff" stroke-width="2.5" stroke-linejoin="round"/>
<path d="M155.35 1192.82 L161.46 1167.98 L172.92 1154.61 L178.65 1149.46 L184.38 1154.61 L189.73 1156.14 L195.46 1149.46 L201.19 1176.58 L212.66 1104.37 L218.39 1152.7 L224.12 1146.02 L235.58 1117.36 L241.31 1131.12 L247.04 1116.03 L252.77 1128.83 L258.5 1130.74 L264.23 1135.89 L269.96 1135.89 L275.69 1127.49 L281.23 1109.15 L286.96 1119.27 L292.69 1072.47 L298.42 1117.36 L304.15 1099.22 L309.89 1156.14 L315.62 1143.15 L321.35 1092.15 L344.46 1159.77 L362.92 1146.02 L380.69 1137.99 L398.26 1139.71 L416.41 1199.89 L451.75 1209.63 L469.89 1193.2 L488.04 1193.2 L505.23 1167.98 L523.38 1146.02 L541.46 1147.72 L559.23 1145.81 L594.95 1092.7 L612.52 1095.95 L648.43 1049.15 L666.2 1060.8 L684.15 1064.05 L702.3 1077.42 L719.88 1069.4 L738.01 1095.68 L755.81 1080.96 L773.82 1094.14 L791.62 1042.51 L809.41 1057.23 L827.21 1060.97 L845.22 1068.88 L863.01 1112.37 L880.81 1106 L898.6 1072.61 L916.62 1080.96 L934.19 1064.26 L944.08 1049.54" fill="none" stroke="#0000ff" stroke-width="2.5" stroke-linejoin="miter"/>
<line x1="508.1" y1="514.2" x2="723.03" y2="338.12" stroke="#808080" stroke-width="2.6" stroke-dasharray="4.4 3.95"/>
<path d="M732.7 330.2 L725.15 344.02 L723.42 337.8 L717.67 334.89 Z" fill="#808080"/>
<line x1="421.1" y1="930.6" x2="616.34" y2="811.03" stroke="#808080" stroke-width="2.6" stroke-dasharray="4.4 3.95"/>
<path d="M627 804.5 L617.63 817.16 L616.77 810.77 L611.47 807.09 Z" fill="#808080"/>
<line x1="452.3" y1="1153.1" x2="637.94" y2="1004.51" stroke="#808080" stroke-width="2.6" stroke-dasharray="4.4 3.95"/>
<path d="M647.7 996.7 L639.99 1010.43 L638.33 1004.2 L632.61 1001.22 Z" fill="#808080"/>
<clipPath id="cr1"><rect x="380.1" y="1288.7" width="169" height="42.6"/></clipPath>
<clipPath id="cr2"><rect x="549.1" y="1288.7" width="56.5" height="42.6"/></clipPath>
<rect x="380.1" y="1288.7" width="169" height="42.6" fill="#d9a67c"/>
<g clip-path="url(#cr1)" stroke="#f7952a" stroke-width="2.3">
<line x1="312.8" y1="1283.7" x2="367.8" y2="1338.7" />
<line x1="334.2" y1="1283.7" x2="389.2" y2="1338.7" />
<line x1="355.6" y1="1283.7" x2="410.6" y2="1338.7" />
<line x1="377" y1="1283.7" x2="432" y2="1338.7" />
<line x1="398.4" y1="1283.7" x2="453.4" y2="1338.7" />
<line x1="419.8" y1="1283.7" x2="474.8" y2="1338.7" />
<line x1="441.2" y1="1283.7" x2="496.2" y2="1338.7" />
<line x1="462.6" y1="1283.7" x2="517.6" y2="1338.7" />
<line x1="484" y1="1283.7" x2="539" y2="1338.7" />
<line x1="505.4" y1="1283.7" x2="560.4" y2="1338.7" />
<line x1="526.8" y1="1283.7" x2="581.8" y2="1338.7" />
<line x1="548.2" y1="1283.7" x2="603.2" y2="1338.7" />
</g>
<rect x="380.6" y="1289.2" width="168" height="41.6" fill="none" stroke="#d49a6a" stroke-width="1"/>
<rect x="549.1" y="1288.7" width="56.5" height="42.6" fill="#e8797c"/>
<g clip-path="url(#cr2)" stroke="#f0545a" stroke-width="2.0">
<line x1="485.3" y1="1283.7" x2="540.3" y2="1338.7" />
<line x1="496" y1="1283.7" x2="551" y2="1338.7" />
<line x1="506.7" y1="1283.7" x2="561.7" y2="1338.7" />
<line x1="517.4" y1="1283.7" x2="572.4" y2="1338.7" />
<line x1="528.1" y1="1283.7" x2="583.1" y2="1338.7" />
<line x1="538.8" y1="1283.7" x2="593.8" y2="1338.7" />
<line x1="549.5" y1="1283.7" x2="604.5" y2="1338.7" />
<line x1="560.2" y1="1283.7" x2="615.2" y2="1338.7" />
<line x1="570.9" y1="1283.7" x2="625.9" y2="1338.7" />
<line x1="581.6" y1="1283.7" x2="636.6" y2="1338.7" />
<line x1="592.3" y1="1283.7" x2="647.3" y2="1338.7" />
<line x1="603" y1="1283.7" x2="658" y2="1338.7" />
</g>
<rect x="549.6" y="1289.2" width="55.5" height="41.6" fill="none" stroke="#ea4a50" stroke-width="1"/>
<rect x="605.2" y="1247.6" width="31.6" height="41.1" fill="#e070ff"/>
<g stroke="#000" stroke-width="2.3" fill="none" stroke-linecap="butt">
<rect x="155.7" y="152.9" width="788.2" height="1203.7"/>
<line x1="155.7" y1="554.3" x2="943.9" y2="554.3" />
<line x1="155.7" y1="955.85" x2="943.9" y2="955.85" />
<line x1="154.6" y1="60" x2="945.1" y2="60" />
<line x1="173.76" y1="60" x2="173.76" y2="67.5" />
<line x1="196.27" y1="60" x2="196.27" y2="67.5" />
<line x1="218.79" y1="60" x2="218.79" y2="67.5" />
<line x1="241.3" y1="60" x2="241.3" y2="75" />
<line x1="263.81" y1="60" x2="263.81" y2="67.5" />
<line x1="286.33" y1="60" x2="286.33" y2="67.5" />
<line x1="308.84" y1="60" x2="308.84" y2="67.5" />
<line x1="331.35" y1="60" x2="331.35" y2="67.5" />
<line x1="353.87" y1="60" x2="353.87" y2="75" />
<line x1="376.38" y1="60" x2="376.38" y2="67.5" />
<line x1="398.89" y1="60" x2="398.89" y2="67.5" />
<line x1="421.4" y1="60" x2="421.4" y2="67.5" />
<line x1="443.92" y1="60" x2="443.92" y2="67.5" />
<line x1="466.43" y1="60" x2="466.43" y2="75" />
<line x1="488.94" y1="60" x2="488.94" y2="67.5" />
<line x1="511.46" y1="60" x2="511.46" y2="67.5" />
<line x1="533.97" y1="60" x2="533.97" y2="67.5" />
<line x1="556.48" y1="60" x2="556.48" y2="67.5" />
<line x1="579" y1="60" x2="579" y2="75" />
<line x1="601.51" y1="60" x2="601.51" y2="67.5" />
<line x1="624.02" y1="60" x2="624.02" y2="67.5" />
<line x1="646.53" y1="60" x2="646.53" y2="67.5" />
<line x1="669.05" y1="60" x2="669.05" y2="67.5" />
<line x1="691.56" y1="60" x2="691.56" y2="75" />
<line x1="714.07" y1="60" x2="714.07" y2="67.5" />
<line x1="736.59" y1="60" x2="736.59" y2="67.5" />
<line x1="759.1" y1="60" x2="759.1" y2="67.5" />
<line x1="781.61" y1="60" x2="781.61" y2="67.5" />
<line x1="804.12" y1="60" x2="804.12" y2="75" />
<line x1="826.64" y1="60" x2="826.64" y2="67.5" />
<line x1="849.15" y1="60" x2="849.15" y2="67.5" />
<line x1="871.66" y1="60" x2="871.66" y2="67.5" />
<line x1="894.18" y1="60" x2="894.18" y2="67.5" />
<line x1="916.69" y1="60" x2="916.69" y2="75" />
<line x1="939.2" y1="60" x2="939.2" y2="67.5" />
<line x1="178.22" y1="152.9" x2="178.22" y2="160.4" />
<line x1="178.22" y1="554.3" x2="178.22" y2="546.8" />
<line x1="178.22" y1="955.85" x2="178.22" y2="948.35" />
<line x1="178.22" y1="1356.6" x2="178.22" y2="1349.1" />
<line x1="200.74" y1="152.9" x2="200.74" y2="160.4" />
<line x1="200.74" y1="554.3" x2="200.74" y2="546.8" />
<line x1="200.74" y1="955.85" x2="200.74" y2="948.35" />
<line x1="200.74" y1="1356.6" x2="200.74" y2="1349.1" />
<line x1="223.26" y1="152.9" x2="223.26" y2="160.4" />
<line x1="223.26" y1="554.3" x2="223.26" y2="546.8" />
<line x1="223.26" y1="955.85" x2="223.26" y2="948.35" />
<line x1="223.26" y1="1356.6" x2="223.26" y2="1349.1" />
<line x1="245.78" y1="152.9" x2="245.78" y2="160.4" />
<line x1="245.78" y1="554.3" x2="245.78" y2="546.8" />
<line x1="245.78" y1="955.85" x2="245.78" y2="948.35" />
<line x1="245.78" y1="1356.6" x2="245.78" y2="1349.1" />
<line x1="268.3" y1="152.9" x2="268.3" y2="167.4" />
<line x1="268.3" y1="554.3" x2="268.3" y2="539.8" />
<line x1="268.3" y1="955.85" x2="268.3" y2="941.35" />
<line x1="268.3" y1="1356.6" x2="268.3" y2="1342.1" />
<line x1="290.82" y1="152.9" x2="290.82" y2="160.4" />
<line x1="290.82" y1="554.3" x2="290.82" y2="546.8" />
<line x1="290.82" y1="955.85" x2="290.82" y2="948.35" />
<line x1="290.82" y1="1356.6" x2="290.82" y2="1349.1" />
<line x1="313.34" y1="152.9" x2="313.34" y2="160.4" />
<line x1="313.34" y1="554.3" x2="313.34" y2="546.8" />
<line x1="313.34" y1="955.85" x2="313.34" y2="948.35" />
<line x1="313.34" y1="1356.6" x2="313.34" y2="1349.1" />
<line x1="335.86" y1="152.9" x2="335.86" y2="160.4" />
<line x1="335.86" y1="554.3" x2="335.86" y2="546.8" />
<line x1="335.86" y1="955.85" x2="335.86" y2="948.35" />
<line x1="335.86" y1="1356.6" x2="335.86" y2="1349.1" />
<line x1="358.38" y1="152.9" x2="358.38" y2="160.4" />
<line x1="358.38" y1="554.3" x2="358.38" y2="546.8" />
<line x1="358.38" y1="955.85" x2="358.38" y2="948.35" />
<line x1="358.38" y1="1356.6" x2="358.38" y2="1349.1" />
<line x1="380.9" y1="152.9" x2="380.9" y2="167.4" />
<line x1="380.9" y1="554.3" x2="380.9" y2="539.8" />
<line x1="380.9" y1="955.85" x2="380.9" y2="941.35" />
<line x1="380.9" y1="1356.6" x2="380.9" y2="1342.1" />
<line x1="403.42" y1="152.9" x2="403.42" y2="160.4" />
<line x1="403.42" y1="554.3" x2="403.42" y2="546.8" />
<line x1="403.42" y1="955.85" x2="403.42" y2="948.35" />
<line x1="403.42" y1="1356.6" x2="403.42" y2="1349.1" />
<line x1="425.94" y1="152.9" x2="425.94" y2="160.4" />
<line x1="425.94" y1="554.3" x2="425.94" y2="546.8" />
<line x1="425.94" y1="955.85" x2="425.94" y2="948.35" />
<line x1="425.94" y1="1356.6" x2="425.94" y2="1349.1" />
<line x1="448.46" y1="152.9" x2="448.46" y2="160.4" />
<line x1="448.46" y1="554.3" x2="448.46" y2="546.8" />
<line x1="448.46" y1="955.85" x2="448.46" y2="948.35" />
<line x1="448.46" y1="1356.6" x2="448.46" y2="1349.1" />
<line x1="470.98" y1="152.9" x2="470.98" y2="160.4" />
<line x1="470.98" y1="554.3" x2="470.98" y2="546.8" />
<line x1="470.98" y1="955.85" x2="470.98" y2="948.35" />
<line x1="470.98" y1="1356.6" x2="470.98" y2="1349.1" />
<line x1="493.5" y1="152.9" x2="493.5" y2="167.4" />
<line x1="493.5" y1="554.3" x2="493.5" y2="539.8" />
<line x1="493.5" y1="955.85" x2="493.5" y2="941.35" />
<line x1="493.5" y1="1356.6" x2="493.5" y2="1342.1" />
<line x1="516.02" y1="152.9" x2="516.02" y2="160.4" />
<line x1="516.02" y1="554.3" x2="516.02" y2="546.8" />
<line x1="516.02" y1="955.85" x2="516.02" y2="948.35" />
<line x1="516.02" y1="1356.6" x2="516.02" y2="1349.1" />
<line x1="538.54" y1="152.9" x2="538.54" y2="160.4" />
<line x1="538.54" y1="554.3" x2="538.54" y2="546.8" />
<line x1="538.54" y1="955.85" x2="538.54" y2="948.35" />
<line x1="538.54" y1="1356.6" x2="538.54" y2="1349.1" />
<line x1="561.06" y1="152.9" x2="561.06" y2="160.4" />
<line x1="561.06" y1="554.3" x2="561.06" y2="546.8" />
<line x1="561.06" y1="955.85" x2="561.06" y2="948.35" />
<line x1="561.06" y1="1356.6" x2="561.06" y2="1349.1" />
<line x1="583.58" y1="152.9" x2="583.58" y2="160.4" />
<line x1="583.58" y1="554.3" x2="583.58" y2="546.8" />
<line x1="583.58" y1="955.85" x2="583.58" y2="948.35" />
<line x1="583.58" y1="1356.6" x2="583.58" y2="1349.1" />
<line x1="606.1" y1="152.9" x2="606.1" y2="167.4" />
<line x1="606.1" y1="554.3" x2="606.1" y2="539.8" />
<line x1="606.1" y1="955.85" x2="606.1" y2="941.35" />
<line x1="606.1" y1="1356.6" x2="606.1" y2="1342.1" />
<line x1="628.62" y1="152.9" x2="628.62" y2="160.4" />
<line x1="628.62" y1="554.3" x2="628.62" y2="546.8" />
<line x1="628.62" y1="955.85" x2="628.62" y2="948.35" />
<line x1="628.62" y1="1356.6" x2="628.62" y2="1349.1" />
<line x1="651.14" y1="152.9" x2="651.14" y2="160.4" />
<line x1="651.14" y1="554.3" x2="651.14" y2="546.8" />
<line x1="651.14" y1="955.85" x2="651.14" y2="948.35" />
<line x1="651.14" y1="1356.6" x2="651.14" y2="1349.1" />
<line x1="673.66" y1="152.9" x2="673.66" y2="160.4" />
<line x1="673.66" y1="554.3" x2="673.66" y2="546.8" />
<line x1="673.66" y1="955.85" x2="673.66" y2="948.35" />
<line x1="673.66" y1="1356.6" x2="673.66" y2="1349.1" />
<line x1="696.18" y1="152.9" x2="696.18" y2="160.4" />
<line x1="696.18" y1="554.3" x2="696.18" y2="546.8" />
<line x1="696.18" y1="955.85" x2="696.18" y2="948.35" />
<line x1="696.18" y1="1356.6" x2="696.18" y2="1349.1" />
<line x1="718.7" y1="152.9" x2="718.7" y2="167.4" />
<line x1="718.7" y1="554.3" x2="718.7" y2="539.8" />
<line x1="718.7" y1="955.85" x2="718.7" y2="941.35" />
<line x1="718.7" y1="1356.6" x2="718.7" y2="1342.1" />
<line x1="741.22" y1="152.9" x2="741.22" y2="160.4" />
<line x1="741.22" y1="554.3" x2="741.22" y2="546.8" />
<line x1="741.22" y1="955.85" x2="741.22" y2="948.35" />
<line x1="741.22" y1="1356.6" x2="741.22" y2="1349.1" />
<line x1="763.74" y1="152.9" x2="763.74" y2="160.4" />
<line x1="763.74" y1="554.3" x2="763.74" y2="546.8" />
<line x1="763.74" y1="955.85" x2="763.74" y2="948.35" />
<line x1="763.74" y1="1356.6" x2="763.74" y2="1349.1" />
<line x1="786.26" y1="152.9" x2="786.26" y2="160.4" />
<line x1="786.26" y1="554.3" x2="786.26" y2="546.8" />
<line x1="786.26" y1="955.85" x2="786.26" y2="948.35" />
<line x1="786.26" y1="1356.6" x2="786.26" y2="1349.1" />
<line x1="808.78" y1="152.9" x2="808.78" y2="160.4" />
<line x1="808.78" y1="554.3" x2="808.78" y2="546.8" />
<line x1="808.78" y1="955.85" x2="808.78" y2="948.35" />
<line x1="808.78" y1="1356.6" x2="808.78" y2="1349.1" />
<line x1="831.3" y1="152.9" x2="831.3" y2="167.4" />
<line x1="831.3" y1="554.3" x2="831.3" y2="539.8" />
<line x1="831.3" y1="955.85" x2="831.3" y2="941.35" />
<line x1="831.3" y1="1356.6" x2="831.3" y2="1342.1" />
<line x1="853.82" y1="152.9" x2="853.82" y2="160.4" />
<line x1="853.82" y1="554.3" x2="853.82" y2="546.8" />
<line x1="853.82" y1="955.85" x2="853.82" y2="948.35" />
<line x1="853.82" y1="1356.6" x2="853.82" y2="1349.1" />
<line x1="876.34" y1="152.9" x2="876.34" y2="160.4" />
<line x1="876.34" y1="554.3" x2="876.34" y2="546.8" />
<line x1="876.34" y1="955.85" x2="876.34" y2="948.35" />
<line x1="876.34" y1="1356.6" x2="876.34" y2="1349.1" />
<line x1="898.86" y1="152.9" x2="898.86" y2="160.4" />
<line x1="898.86" y1="554.3" x2="898.86" y2="546.8" />
<line x1="898.86" y1="955.85" x2="898.86" y2="948.35" />
<line x1="898.86" y1="1356.6" x2="898.86" y2="1349.1" />
<line x1="921.38" y1="152.9" x2="921.38" y2="160.4" />
<line x1="921.38" y1="554.3" x2="921.38" y2="546.8" />
<line x1="921.38" y1="955.85" x2="921.38" y2="948.35" />
<line x1="921.38" y1="1356.6" x2="921.38" y2="1349.1" />
<line x1="155.7" y1="210.5" x2="170.9" y2="210.5" />
<line x1="155.7" y1="310.4" x2="170.9" y2="310.4" />
<line x1="155.7" y1="410.6" x2="170.9" y2="410.6" />
<line x1="155.7" y1="510.8" x2="170.9" y2="510.8" />
<line x1="155.7" y1="160.2" x2="163.2" y2="160.2" />
<line x1="155.7" y1="260.4" x2="163.2" y2="260.4" />
<line x1="155.7" y1="360.5" x2="163.2" y2="360.5" />
<line x1="155.7" y1="460.7" x2="163.2" y2="460.7" />
<line x1="943.9" y1="235.2" x2="929.4" y2="235.2" />
<line x1="943.9" y1="326.4" x2="929.4" y2="326.4" />
<line x1="943.9" y1="417.7" x2="929.4" y2="417.7" />
<line x1="943.9" y1="509" x2="929.4" y2="509" />
<line x1="943.9" y1="189.5" x2="936.4" y2="189.5" />
<line x1="943.9" y1="280.8" x2="936.4" y2="280.8" />
<line x1="943.9" y1="372.1" x2="936.4" y2="372.1" />
<line x1="943.9" y1="463.4" x2="936.4" y2="463.4" />
<line x1="155.7" y1="596.1" x2="170.9" y2="596.1" />
<line x1="943.9" y1="596.1" x2="929.4" y2="596.1" />
<line x1="155.7" y1="679.7" x2="170.9" y2="679.7" />
<line x1="943.9" y1="679.7" x2="929.4" y2="679.7" />
<line x1="155.7" y1="763.5" x2="170.9" y2="763.5" />
<line x1="155.7" y1="846.9" x2="170.9" y2="846.9" />
<line x1="943.9" y1="846.9" x2="929.4" y2="846.9" />
<line x1="155.7" y1="930.5" x2="170.9" y2="930.5" />
<line x1="943.9" y1="930.5" x2="929.4" y2="930.5" />
<line x1="155.7" y1="1021.9" x2="170.9" y2="1021.9" />
<line x1="943.9" y1="1021.9" x2="929.4" y2="1021.9" />
<line x1="155.7" y1="1122.3" x2="170.9" y2="1122.3" />
<line x1="943.9" y1="1122.3" x2="929.4" y2="1122.3" />
<line x1="155.7" y1="1222.7" x2="170.9" y2="1222.7" />
<line x1="943.9" y1="1222.7" x2="929.4" y2="1222.7" />
<line x1="155.7" y1="1323" x2="170.9" y2="1323" />
<line x1="943.9" y1="1323" x2="929.4" y2="1323" />
<line x1="155.7" y1="971.9" x2="163.2" y2="971.9" />
<line x1="943.9" y1="971.9" x2="936.4" y2="971.9" />
<line x1="155.7" y1="1072.4" x2="163.2" y2="1072.4" />
<line x1="943.9" y1="1072.4" x2="936.4" y2="1072.4" />
<line x1="155.7" y1="1172.6" x2="163.2" y2="1172.6" />
<line x1="943.9" y1="1172.6" x2="936.4" y2="1172.6" />
<line x1="155.7" y1="1273" x2="163.2" y2="1273" />
<line x1="943.9" y1="1273" x2="936.4" y2="1273" />
</g>
<text id="gor_title" x="548.95" y="19" text-anchor="middle" textLength="195.4" lengthAdjust="spacingAndGlyphs" >GOR relative year</text>
<text  x="211.7" y="49.7" text-anchor="start"  textLength="54.85" lengthAdjust="spacingAndGlyphs">1150</text>
<text  x="324.27" y="49.7" text-anchor="start"  textLength="54.85" lengthAdjust="spacingAndGlyphs">1200</text>
<text  x="436.83" y="49.7" text-anchor="start"  textLength="54.85" lengthAdjust="spacingAndGlyphs">1250</text>
<text  x="549.39" y="49.7" text-anchor="start"  textLength="54.85" lengthAdjust="spacingAndGlyphs">1300</text>
<text  x="661.96" y="49.7" text-anchor="start"  textLength="54.85" lengthAdjust="spacingAndGlyphs">1350</text>
<text  x="774.52" y="49.7" text-anchor="start"  textLength="54.85" lengthAdjust="spacingAndGlyphs">1400</text>
<text  x="887.09" y="49.7" text-anchor="start"  textLength="54.85" lengthAdjust="spacingAndGlyphs">1450</text>
<text id="cal_top" x="550" y="108.5" text-anchor="middle" textLength="201.82" lengthAdjust="spacingAndGlyphs" >Calendar date (<tspan class="sc">BC</tspan>)</text>
<text  x="127.4" y="139.7" text-anchor="start"  textLength="54.85" lengthAdjust="spacingAndGlyphs">1400</text>
<text  x="128.9" y="1387.8" text-anchor="start"  textLength="54.85" lengthAdjust="spacingAndGlyphs">1400</text>
<text  x="240" y="139.7" text-anchor="start"  textLength="54.85" lengthAdjust="spacingAndGlyphs">1350</text>
<text  x="241.5" y="1387.8" text-anchor="start"  textLength="54.85" lengthAdjust="spacingAndGlyphs">1350</text>
<text  x="352.6" y="139.7" text-anchor="start"  textLength="54.85" lengthAdjust="spacingAndGlyphs">1300</text>
<text  x="354.1" y="1387.8" text-anchor="start"  textLength="54.85" lengthAdjust="spacingAndGlyphs">1300</text>
<text  x="465.2" y="139.7" text-anchor="start"  textLength="54.85" lengthAdjust="spacingAndGlyphs">1250</text>
<text  x="466.7" y="1387.8" text-anchor="start"  textLength="54.85" lengthAdjust="spacingAndGlyphs">1250</text>
<text  x="577.8" y="139.7" text-anchor="start"  textLength="54.85" lengthAdjust="spacingAndGlyphs">1200</text>
<text  x="579.3" y="1387.8" text-anchor="start"  textLength="54.85" lengthAdjust="spacingAndGlyphs">1200</text>
<text  x="690.4" y="139.7" text-anchor="start"  textLength="54.85" lengthAdjust="spacingAndGlyphs">1150</text>
<text  x="691.9" y="1387.8" text-anchor="start"  textLength="54.85" lengthAdjust="spacingAndGlyphs">1150</text>
<text  x="803" y="139.7" text-anchor="start"  textLength="54.85" lengthAdjust="spacingAndGlyphs">1100</text>
<text  x="804.5" y="1387.8" text-anchor="start"  textLength="54.85" lengthAdjust="spacingAndGlyphs">1100</text>
<text  x="915.6" y="139.7" text-anchor="start"  textLength="54.85" lengthAdjust="spacingAndGlyphs">1050</text>
<text  x="917.1" y="1387.8" text-anchor="start"  textLength="54.85" lengthAdjust="spacingAndGlyphs">1050</text>
<text id="cal_bot" x="546.55" y="1420.7" text-anchor="middle" textLength="203.71" lengthAdjust="spacingAndGlyphs" >Calendar date (<tspan class="sc">BC</tspan>)</text>
<text  x="145.7" y="223.1" text-anchor="end"  textLength="47.37" lengthAdjust="spacingAndGlyphs">−3.5</text>
<text  x="145.7" y="323" text-anchor="end"  textLength="47.37" lengthAdjust="spacingAndGlyphs">−4.2</text>
<text  x="145.7" y="423.2" text-anchor="end"  textLength="47.37" lengthAdjust="spacingAndGlyphs">−4.9</text>
<text  x="145.7" y="523.4" text-anchor="end"  textLength="47.37" lengthAdjust="spacingAndGlyphs">−5.6</text>
<text  x="956" y="239.2" text-anchor="start"  textLength="47.37" lengthAdjust="spacingAndGlyphs">−3.4</text>
<text  x="956" y="330.4" text-anchor="start"  textLength="47.37" lengthAdjust="spacingAndGlyphs">−3.6</text>
<text  x="956" y="421.7" text-anchor="start"  textLength="47.37" lengthAdjust="spacingAndGlyphs">−3.8</text>
<text  x="956" y="513" text-anchor="start"  textLength="47.37" lengthAdjust="spacingAndGlyphs">−4.0</text>
<text  x="145.7" y="608.7" text-anchor="end"  textLength="13.35" lengthAdjust="spacingAndGlyphs">2</text>
<text  x="145.7" y="692.3" text-anchor="end"  textLength="13.35" lengthAdjust="spacingAndGlyphs">1</text>
<text  x="145.7" y="776.1" text-anchor="end"  textLength="13.35" lengthAdjust="spacingAndGlyphs">0</text>
<text  x="145.7" y="859.5" text-anchor="end"  textLength="27.35" lengthAdjust="spacingAndGlyphs">−1</text>
<text  x="145.7" y="943.1" text-anchor="end"  textLength="27.35" lengthAdjust="spacingAndGlyphs">−2</text>
<text  x="145.7" y="1034.5" text-anchor="end"  textLength="60.72" lengthAdjust="spacingAndGlyphs">−10.2</text>
<text  x="145.7" y="1134.9" text-anchor="end"  textLength="60.72" lengthAdjust="spacingAndGlyphs">−10.8</text>
<text  x="145.7" y="1235.3" text-anchor="end"  textLength="60.72" lengthAdjust="spacingAndGlyphs">−11.4</text>
<text  x="145.7" y="1335.6" text-anchor="end"  textLength="60.72" lengthAdjust="spacingAndGlyphs">−12.0</text>
<line x1="236.5" y1="194.1" x2="295.2" y2="194.1" stroke="#ff00ff" stroke-width="2.5"/>
<line x1="236.5" y1="225.7" x2="295.2" y2="225.7" stroke="#800000" stroke-width="2.5"/>
<text id="koc18" x="301.2" y="202.2" text-anchor="start" textLength="136.43" lengthAdjust="spacingAndGlyphs" >Kocain <tspan class="sym">δ</tspan><tspan class="sup" dy="-8.5">18</tspan><tspan dy="8.5">O</tspan></text>
<text id="koc13" x="301.2" y="233.8" text-anchor="start" textLength="135.26" lengthAdjust="spacingAndGlyphs" >Kocain <tspan class="sym">δ</tspan><tspan class="sup" dy="-8.5">13</tspan><tspan dy="8.5">C</tspan></text>
<line x1="236.8" y1="577.3" x2="295.2" y2="577.3" stroke="#ff0000" stroke-width="1.3"/>
<line x1="236.8" y1="608.6" x2="295.2" y2="608.6" stroke="#ff0000" stroke-width="2.6"/>
<text id="zavg" x="303.3" y="586.3" text-anchor="start" textLength="111.67" lengthAdjust="spacingAndGlyphs" ><tspan font-style="italic">Z</tspan> average</text>
<text id="sg28" x="301.3" y="617.8" text-anchor="start" textLength="262.61" lengthAdjust="spacingAndGlyphs" >28-point SG smoothing</text>
<line x1="236.5" y1="1000.2" x2="295.2" y2="1000.2" stroke="#0000ff" stroke-width="2.5"/>
<text id="sofular" x="301.3" y="1008.8" text-anchor="start" textLength="137.38" lengthAdjust="spacingAndGlyphs" >Sofular <tspan class="sym">δ</tspan><tspan class="sup" dy="-8.5">13</tspan><tspan dy="8.5">C</tspan></text>
<text id="yl1" transform="translate(75.6 346.95) rotate(-90)" text-anchor="middle" textLength="184.01" lengthAdjust="spacingAndGlyphs">Kocain <tspan class="sym">δ</tspan><tspan class="sup" dy="-8.5">13</tspan><tspan dy="8.5">C (‰)</tspan></text>
<text id="yl2" transform="translate(76.2 719.95) rotate(-90)" text-anchor="middle" textLength="226.73" lengthAdjust="spacingAndGlyphs">GOR <tspan class="sym">δ</tspan><tspan class="sup" dy="-8.5">13</tspan><tspan dy="8.5">C average <tspan font-style="italic">Z</tspan></tspan></text>
<text id="yl3" transform="translate(67.6 1160.95) rotate(-90)" text-anchor="middle" textLength="185.56" lengthAdjust="spacingAndGlyphs">Sofular <tspan class="sym">δ</tspan><tspan class="sup" dy="-8.5">13</tspan><tspan dy="8.5">C (‰)</tspan></text>
<text id="yr1" transform="translate(1042.3 363.5) rotate(-90)" text-anchor="middle" textLength="185.05" lengthAdjust="spacingAndGlyphs">Kocain <tspan class="sym">δ</tspan><tspan class="sup" dy="-8.5">18</tspan><tspan dy="8.5">O (‰)</tspan></text>
<text id="drier" transform="translate(17.6 688) rotate(-90)" text-anchor="middle" textLength="193.35" lengthAdjust="spacingAndGlyphs">Drier towards top</text>
<text  x="390.4" y="1316.8" text-anchor="start"  textLength="207" lengthAdjust="spacingAndGlyphs">Famine/grain texts</text>
<text  x="622" y="1274.6" text-anchor="middle"  >E</text>
<text  x="610.6" y="1315.6" text-anchor="start"  >??</text>
<line x1="30.2" y1="1132.9" x2="30.2" y2="264" stroke="#b4570f" stroke-width="2.4"/>
<path d="M30.2 253 L37 269.6 L30.2 266.6 L23.4 269.6 Z" fill="#b4570f"/>
</svg></body></html>
